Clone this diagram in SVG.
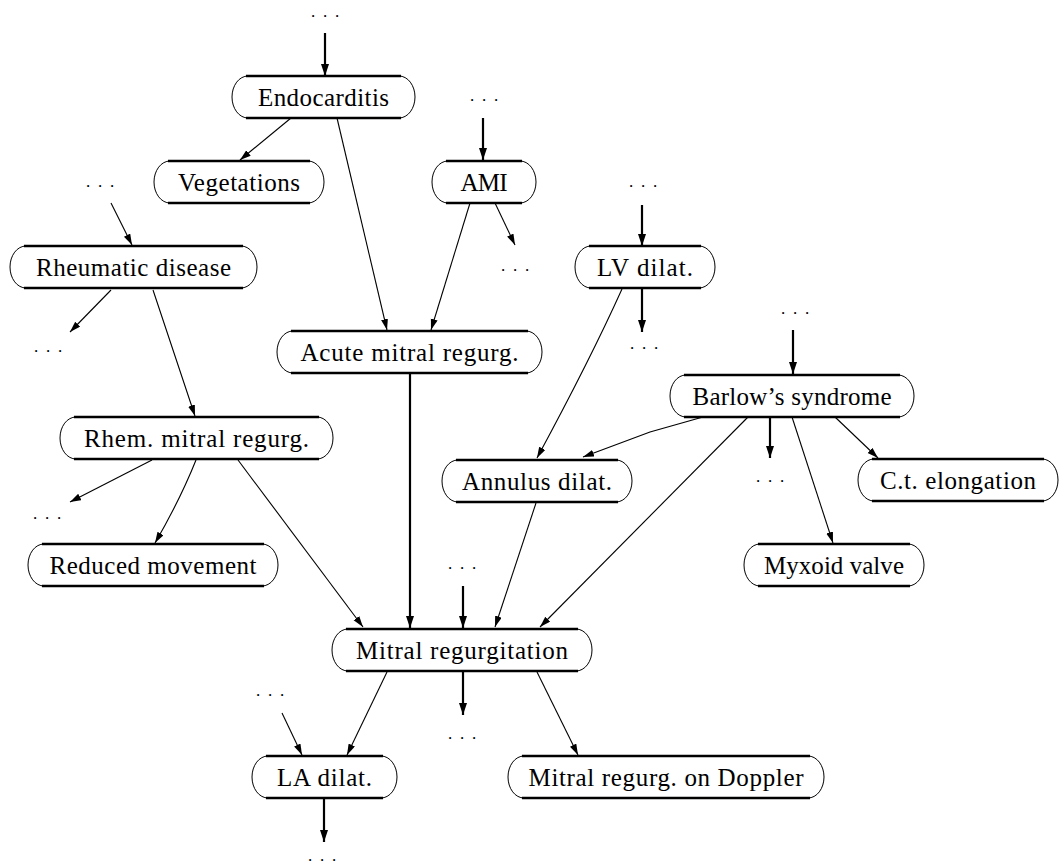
<svg xmlns="http://www.w3.org/2000/svg" width="1060" height="865" viewBox="0 0 1060 865">
<style>
.bg{fill:#fff}
.n{fill:#fff;stroke:#000;stroke-width:1}
.t{fill:none;stroke:#000;stroke-width:2.6}
.l{font-family:"Liberation Serif","Times New Roman",serif;font-size:25px;fill:#000;text-anchor:middle}
.d{font-family:"Liberation Serif","Times New Roman",serif;font-size:17px;fill:#000;text-anchor:middle;letter-spacing:7.8px}
.e{fill:none;stroke:#000;stroke-width:1.1}
.k{fill:none;stroke:#000;stroke-width:2.2}
</style>
<defs>
<marker id="a" markerUnits="userSpaceOnUse" markerWidth="12" markerHeight="8" refX="11" refY="3.5" orient="auto"><path d="M0,0 L11,3.5 L0,7 z" fill="#000"/></marker>
<marker id="b" markerUnits="userSpaceOnUse" markerWidth="13" markerHeight="9" refX="12" refY="4" orient="auto"><path d="M0,0 L12,4 L0,8 z" fill="#000"/></marker>
</defs>
<rect class="bg" width="1060" height="865"/>
<g id="dots">
<text class="d" x="329" y="17">...</text>
<text class="d" x="488" y="101">...</text>
<text class="d" x="104" y="187">...</text>
<text class="d" x="647" y="187">...</text>
<text class="d" x="519" y="271">...</text>
<text class="d" x="52" y="352">...</text>
<text class="d" x="648" y="349">...</text>
<text class="d" x="799" y="314">...</text>
<text class="d" x="774" y="482">...</text>
<text class="d" x="51" y="519">...</text>
<text class="d" x="466" y="569">...</text>
<text class="d" x="466" y="739">...</text>
<text class="d" x="274" y="696">...</text>
<text class="d" x="326" y="861">...</text>
</g>
<g id="connectors">
<path class="k" d="M325,33 V76" marker-end="url(#b)"/>
<path class="e" d="M291,118 L240,160" marker-end="url(#a)"/>
<path class="e" d="M337,118 L387,330" marker-end="url(#a)"/>
<path class="k" d="M483,118 V160" marker-end="url(#b)"/>
<path class="e" d="M470,203 L431,330" marker-end="url(#a)"/>
<path class="e" d="M495,203 L515,245" marker-end="url(#a)"/>
<path class="e" d="M111,203 L132,245" marker-end="url(#a)"/>
<path class="e" d="M111,290 L70,332" marker-end="url(#a)"/>
<path class="e" d="M153,290 L195,416" marker-end="url(#a)"/>
<path class="k" d="M642,205 V246" marker-end="url(#b)"/>
<path class="k" d="M642,288 V332" marker-end="url(#b)"/>
<path class="e" d="M622,289 Q590,360 537,458" marker-end="url(#a)"/>
<path class="k" d="M410,373 V628" marker-end="url(#b)"/>
<path class="k" d="M793,330 V374" marker-end="url(#b)"/>
<path class="e" d="M703,417 L650,432 L583,457" marker-end="url(#a)"/>
<path class="e" d="M748,417 L540,627" marker-end="url(#a)"/>
<path class="k" d="M770,417 V458" marker-end="url(#b)"/>
<path class="e" d="M792,417 L833,543" marker-end="url(#a)"/>
<path class="e" d="M835,417 L878,458" marker-end="url(#a)"/>
<path class="e" d="M152,460 L70,502" marker-end="url(#a)"/>
<path class="e" d="M196,460 Q180,500 155,543" marker-end="url(#a)"/>
<path class="e" d="M238,460 L363,627" marker-end="url(#a)"/>
<path class="e" d="M536,503 L495,627" marker-end="url(#a)"/>
<path class="k" d="M463,586 V628" marker-end="url(#b)"/>
<path class="e" d="M387,672 L347,755" marker-end="url(#a)"/>
<path class="k" d="M463,672 V715" marker-end="url(#b)"/>
<path class="e" d="M537,672 L578,755" marker-end="url(#a)"/>
<path class="e" d="M282,713 L302,755" marker-end="url(#a)"/>
<path class="k" d="M324,798 V842" marker-end="url(#b)"/>
</g>
<g id="n1"><rect class="n" x="232" y="76" width="183" height="42" rx="16" ry="21"/><path class="t" d="M246,76 H401 M246,118 H401"/><text class="l" x="323.5" y="106" textLength="131">Endocarditis</text></g>
<g id="n2"><rect class="n" x="154" y="161" width="170" height="42" rx="16" ry="21"/><path class="t" d="M168,161 H310 M168,203 H310"/><text class="l" x="239" y="191" textLength="122">Vegetations</text></g>
<g id="n3"><rect class="n" x="432" y="161" width="104" height="42" rx="16" ry="21"/><path class="t" d="M446,161 H522 M446,203 H522"/><text class="l" x="484" y="191" textLength="47">AMI</text></g>
<g id="n4"><rect class="n" x="10" y="246" width="247" height="42" rx="16" ry="21"/><path class="t" d="M24,246 H243 M24,288 H243"/><text class="l" x="133.5" y="276" textLength="195">Rheumatic disease</text></g>
<g id="n5"><rect class="n" x="575" y="246" width="140" height="42" rx="16" ry="21"/><path class="t" d="M589,246 H701 M589,288 H701"/><text class="l" x="645" y="276" textLength="96">LV dilat.</text></g>
<g id="n6"><rect class="n" x="277" y="331" width="265" height="42" rx="16" ry="21"/><path class="t" d="M291,331 H528 M291,373 H528"/><text class="l" x="409.5" y="361" textLength="218">Acute mitral regurg.</text></g>
<g id="n7"><rect class="n" x="670" y="375" width="244" height="42" rx="16" ry="21"/><path class="t" d="M684,375 H900 M684,417 H900"/><text class="l" x="792" y="405" textLength="199">Barlow’s syndrome</text></g>
<g id="n8"><rect class="n" x="60" y="417" width="273" height="42" rx="16" ry="21"/><path class="t" d="M74,417 H319 M74,459 H319"/><text class="l" x="196.5" y="447" textLength="225">Rhem. mitral regurg.</text></g>
<g id="n9"><rect class="n" x="442" y="460" width="190" height="42" rx="16" ry="21"/><path class="t" d="M456,460 H618 M456,502 H618"/><text class="l" x="537" y="490" textLength="150">Annulus dilat.</text></g>
<g id="n10"><rect class="n" x="858" y="459" width="200" height="42" rx="16" ry="21"/><path class="t" d="M872,459 H1044 M872,501 H1044"/><text class="l" x="958" y="489" textLength="156">C.t. elongation</text></g>
<g id="n11"><rect class="n" x="28" y="544" width="250" height="42" rx="16" ry="21"/><path class="t" d="M42,544 H264 M42,586 H264"/><text class="l" x="153" y="574" textLength="207">Reduced movement</text></g>
<g id="n12"><rect class="n" x="744" y="544" width="180" height="42" rx="16" ry="21"/><path class="t" d="M758,544 H910 M758,586 H910"/><text class="l" x="834" y="574" textLength="140">Myxoid valve</text></g>
<g id="n13"><rect class="n" x="332" y="629" width="260" height="42" rx="16" ry="21"/><path class="t" d="M346,629 H578 M346,671 H578"/><text class="l" x="462" y="659" textLength="212">Mitral regurgitation</text></g>
<g id="n14"><rect class="n" x="252" y="756" width="145" height="42" rx="16" ry="21"/><path class="t" d="M266,756 H383 M266,798 H383"/><text class="l" x="324.5" y="786" textLength="95">LA dilat.</text></g>
<g id="n15"><rect class="n" x="508" y="756" width="316" height="42" rx="16" ry="21"/><path class="t" d="M522,756 H810 M522,798 H810"/><text class="l" x="666" y="786" textLength="275">Mitral regurg. on Doppler</text></g>
</svg>
